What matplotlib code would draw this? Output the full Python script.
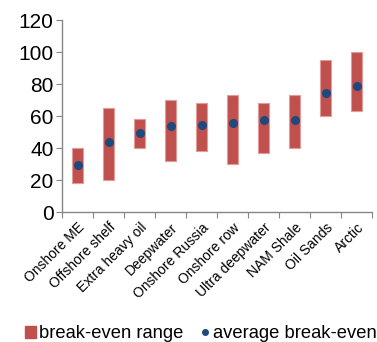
import matplotlib
matplotlib.use("Agg")
import matplotlib.pyplot as plt
from matplotlib.lines import Line2D
from matplotlib.patches import Patch

plt.rcParams['font.family'] = ['Liberation Sans', 'DejaVu Sans']

categories = ["Onshore ME", "Offshore shelf", "Extra heavy oil", "Deepwater",
              "Onshore Russia", "Onshore row", "Ultra deepwater", "NAM Shale",
              "Oil Sands", "Arctic"]
range_low = [18, 20, 40, 32, 38, 30, 37, 40, 60, 63]
range_high = [40, 65, 58, 70, 68, 73, 68, 73, 95, 100]
average = [29.5, 43.5, 49.5, 53.5, 54.5, 55.5, 57.5, 57.5, 74.5, 78.5]
y_ticks = [0, 20, 40, 60, 80, 100, 120]

bar_color = "#C0504D"
dot_color = "#1F497D"
axis_color = "#868686"

fig = plt.figure(figsize=(3.77, 3.42), dpi=100)
ax = fig.add_axes([0.1645, 0.380, 0.8225, 0.5615])

x = list(range(len(categories)))
heights = [h - l for l, h in zip(range_low, range_high)]
ax.bar(x, heights, bottom=range_low, width=0.38, color=bar_color,
       edgecolor="#E39A98", linewidth=0.8, zorder=2)
ax.plot(x, average, linestyle="none", marker="o", markersize=5.5,
        color=dot_color, zorder=3)

ax.set_xlim(-0.5, len(categories) - 0.5)
ax.set_ylim(0, 120)
ax.set_yticks(y_ticks)
ax.set_yticklabels([str(v) for v in y_ticks], fontsize=15)

# category labels sit between the boundary ticks
ax.set_xticks([i + 0.5 for i in range(-1, len(categories))])
ax.set_xticklabels([])
ax.set_xticks(x, minor=True)
ax.set_xticklabels(categories, minor=True, rotation=45, ha="right",
                   rotation_mode="anchor", fontsize=10)
ax.tick_params(axis="x", which="minor", length=0, pad=6)
ax.tick_params(axis="x", which="major", length=4, color=axis_color,
               direction="out")
ax.tick_params(axis="y", length=4, color=axis_color, direction="out", pad=2)

for side in ("top", "right"):
    ax.spines[side].set_visible(False)
for side in ("left", "bottom"):
    ax.spines[side].set_color(axis_color)
    ax.spines[side].set_linewidth(1.0)

handles = [
    Patch(facecolor=bar_color, edgecolor=bar_color),
    Line2D([], [], linestyle="none", marker="o", markersize=4, color=dot_color),
]
fig.legend(handles, ["break-even range", "average break-even"],
           loc="center left", bbox_to_anchor=(25 / 377, 1 - 334 / 342),
           ncol=2, frameon=False, fontsize=13.2, handlelength=0.6,
           handleheight=0.6, handletextpad=0.15, columnspacing=0.9,
           borderpad=0, borderaxespad=0)

fig.savefig("out.png", dpi=100)
